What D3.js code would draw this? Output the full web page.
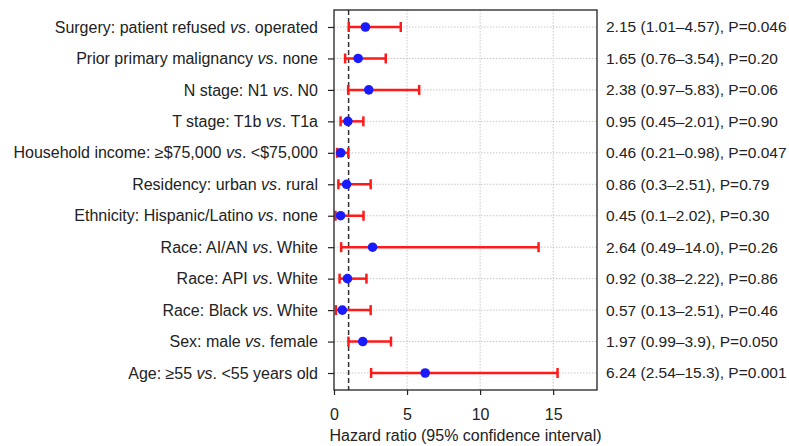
<!DOCTYPE html>
<html lang="en">
<head>
  <meta charset="UTF-8">
  <title>forest</title>
  <script src="https://d3js.org/d3.v7.min.js"></script>
  <style>
    body { margin: 0; padding: 0; background: #fff; }
    text { font-family: "Liberation Sans", Arial, sans-serif; fill: #222; }
  </style>
</head>
<body>
  <div id="chart"></div>
<script>
  // each label: [before, after] around the italic "vs"
  const labels = [
    ['Surgery: patient refused ', '. operated'],
    ['Prior primary malignancy ', '. none'],
    ['N stage: N1 ', '. N0'],
    ['T stage: T1b ', '. T1a'],
    ['Household income: \u2265$75,000 ', '. <$75,000'],
    ['Residency: urban ', '. rural'],
    ['Ethnicity: Hispanic/Latino ', '. none'],
    ['Race: AI/AN ', '. White'],
    ['Race: API ', '. White'],
    ['Race: Black ', '. White'],
    ['Sex: male ', '. female'],
    ['Age: \u226555 ', '. <55 years old']
  ]
  const hr    = [2.15, 1.65, 2.38, 0.95, 0.46, 0.86, 0.45, 2.64, 0.92, 0.57, 1.97, 6.24]
  const lower = [1.01, 0.76, 0.97, 0.45, 0.21, 0.3, 0.1, 0.49, 0.38, 0.13, 0.99, 2.54]
  const upper = [4.57, 3.54, 5.83, 2.01, 0.98, 2.51, 2.02, 14.0, 2.22, 2.51, 3.9, 15.3]
  const ciText = ['1.01\u20134.57', '0.76\u20133.54', '0.97\u20135.83', '0.45\u20132.01', '0.21\u20130.98', '0.3\u20132.51',
                  '0.1\u20132.02', '0.49\u201314.0', '0.38\u20132.22', '0.13\u20132.51', '0.99\u20133.9', '2.54\u201315.3']
  const hrText = ['2.15', '1.65', '2.38', '0.95', '0.46', '0.86', '0.45', '2.64', '0.92', '0.57', '1.97', '6.24']
  const pText = ['0.046', '0.20', '0.06', '0.90', '0.047', '0.79', '0.30', '0.26', '0.86', '0.46', '0.050', '0.001']
  const xTicks = [0, 5, 10, 15]

  const width = 789, height = 446
  const margin = { top: 10, right: 192, bottom: 56, left: 334 }

  const svg = d3.select('#chart').append('svg')
    .attr('width', width).attr('height', height)

  const x = d3.scaleLinear().domain([0, 18]).range([margin.left, width - margin.right])
  const y = d3.scalePoint().domain(d3.range(labels.length))
    .range([margin.top, height - margin.bottom]).padding(0.54)

  // grid
  svg.append('g').selectAll('line').data(xTicks.slice(1)).join('line')
    .attr('x1', d => x(d)).attr('x2', d => x(d))
    .attr('y1', margin.top).attr('y2', height - margin.bottom)
    .attr('stroke', '#c8c8c8').attr('stroke-dasharray', '1.5,1.5')
  svg.append('g').selectAll('line').data(d3.range(labels.length)).join('line')
    .attr('x1', x(0)).attr('x2', x(18))
    .attr('y1', d => y(d)).attr('y2', d => y(d))
    .attr('stroke', '#c8c8c8').attr('stroke-dasharray', '1.5,1.5')

  // reference line at HR = 1
  svg.append('line')
    .attr('x1', x(1)).attr('x2', x(1))
    .attr('y1', margin.top).attr('y2', height - margin.bottom)
    .attr('stroke', '#333').attr('stroke-width', 1.5).attr('stroke-dasharray', '5,3')

  // error bars
  const bars = svg.append('g').selectAll('g').data(d3.range(labels.length)).join('g')
    .attr('stroke', '#ff1a1a').attr('stroke-width', 2.5)
  bars.append('line')
    .attr('x1', i => x(lower[i])).attr('x2', i => x(upper[i]))
    .attr('y1', i => y(i)).attr('y2', i => y(i))
  bars.append('line')
    .attr('x1', i => x(lower[i])).attr('x2', i => x(lower[i]))
    .attr('y1', i => y(i) - 5).attr('y2', i => y(i) + 5)
  bars.append('line')
    .attr('x1', i => x(upper[i])).attr('x2', i => x(upper[i]))
    .attr('y1', i => y(i) - 5).attr('y2', i => y(i) + 5)

  svg.append('g').selectAll('circle').data(d3.range(labels.length)).join('circle')
    .attr('cx', i => x(hr[i])).attr('cy', i => y(i)).attr('r', 4.8)
    .attr('fill', '#1a1aff')

  // frame
  svg.append('rect')
    .attr('x', margin.left).attr('y', margin.top)
    .attr('width', x(18) - x(0)).attr('height', height - margin.bottom - margin.top)
    .attr('fill', 'none').attr('stroke', '#222').attr('stroke-width', 1.3)

  // axes
  const xAxis = svg.append('g')
    .attr('transform', `translate(0,${height - margin.bottom})`)
    .call(d3.axisBottom(x).tickValues(xTicks).tickSize(5).tickPadding(14))
  xAxis.select('.domain').remove()
  xAxis.selectAll('line').attr('stroke', '#222').attr('stroke-width', 1.2)
  xAxis.selectAll('text').style('font-size', '16px').style('font-family', '"Liberation Sans", Arial, sans-serif').attr('fill', '#222')

  const yAxis = svg.append('g')
    .attr('transform', `translate(${margin.left},0)`)
    .call(d3.axisLeft(y).tickSize(6).tickPadding(9).tickFormat(''))
  yAxis.select('.domain').remove()
  yAxis.selectAll('line').attr('stroke', '#222').attr('stroke-width', 1.2)

  const lab = svg.append('g').selectAll('text').data(d3.range(labels.length)).join('text')
    .attr('x', margin.left - 16).attr('y', i => y(i)).attr('dy', '0.35em')
    .attr('text-anchor', 'end').style('font-size', '16px')
  lab.append('tspan').text(i => labels[i][0])
  lab.append('tspan').style('font-style', 'italic').text('vs')
  lab.append('tspan').text(i => labels[i][1])

  svg.append('g').selectAll('text').data(d3.range(labels.length)).join('text')
    .attr('x', x(18) + 9).attr('y', i => y(i)).attr('dy', '0.35em')
    .style('font-size', '15.5px')
    .text(i => `${hrText[i]} (${ciText[i]}), P=${pText[i]}`)

  svg.append('text')
    .attr('x', (x(0) + x(18)) / 2).attr('y', height - 5)
    .attr('text-anchor', 'middle').style('font-size', '16px')
    .text('Hazard ratio (95% confidence interval)')
</script>
</body>
</html>
